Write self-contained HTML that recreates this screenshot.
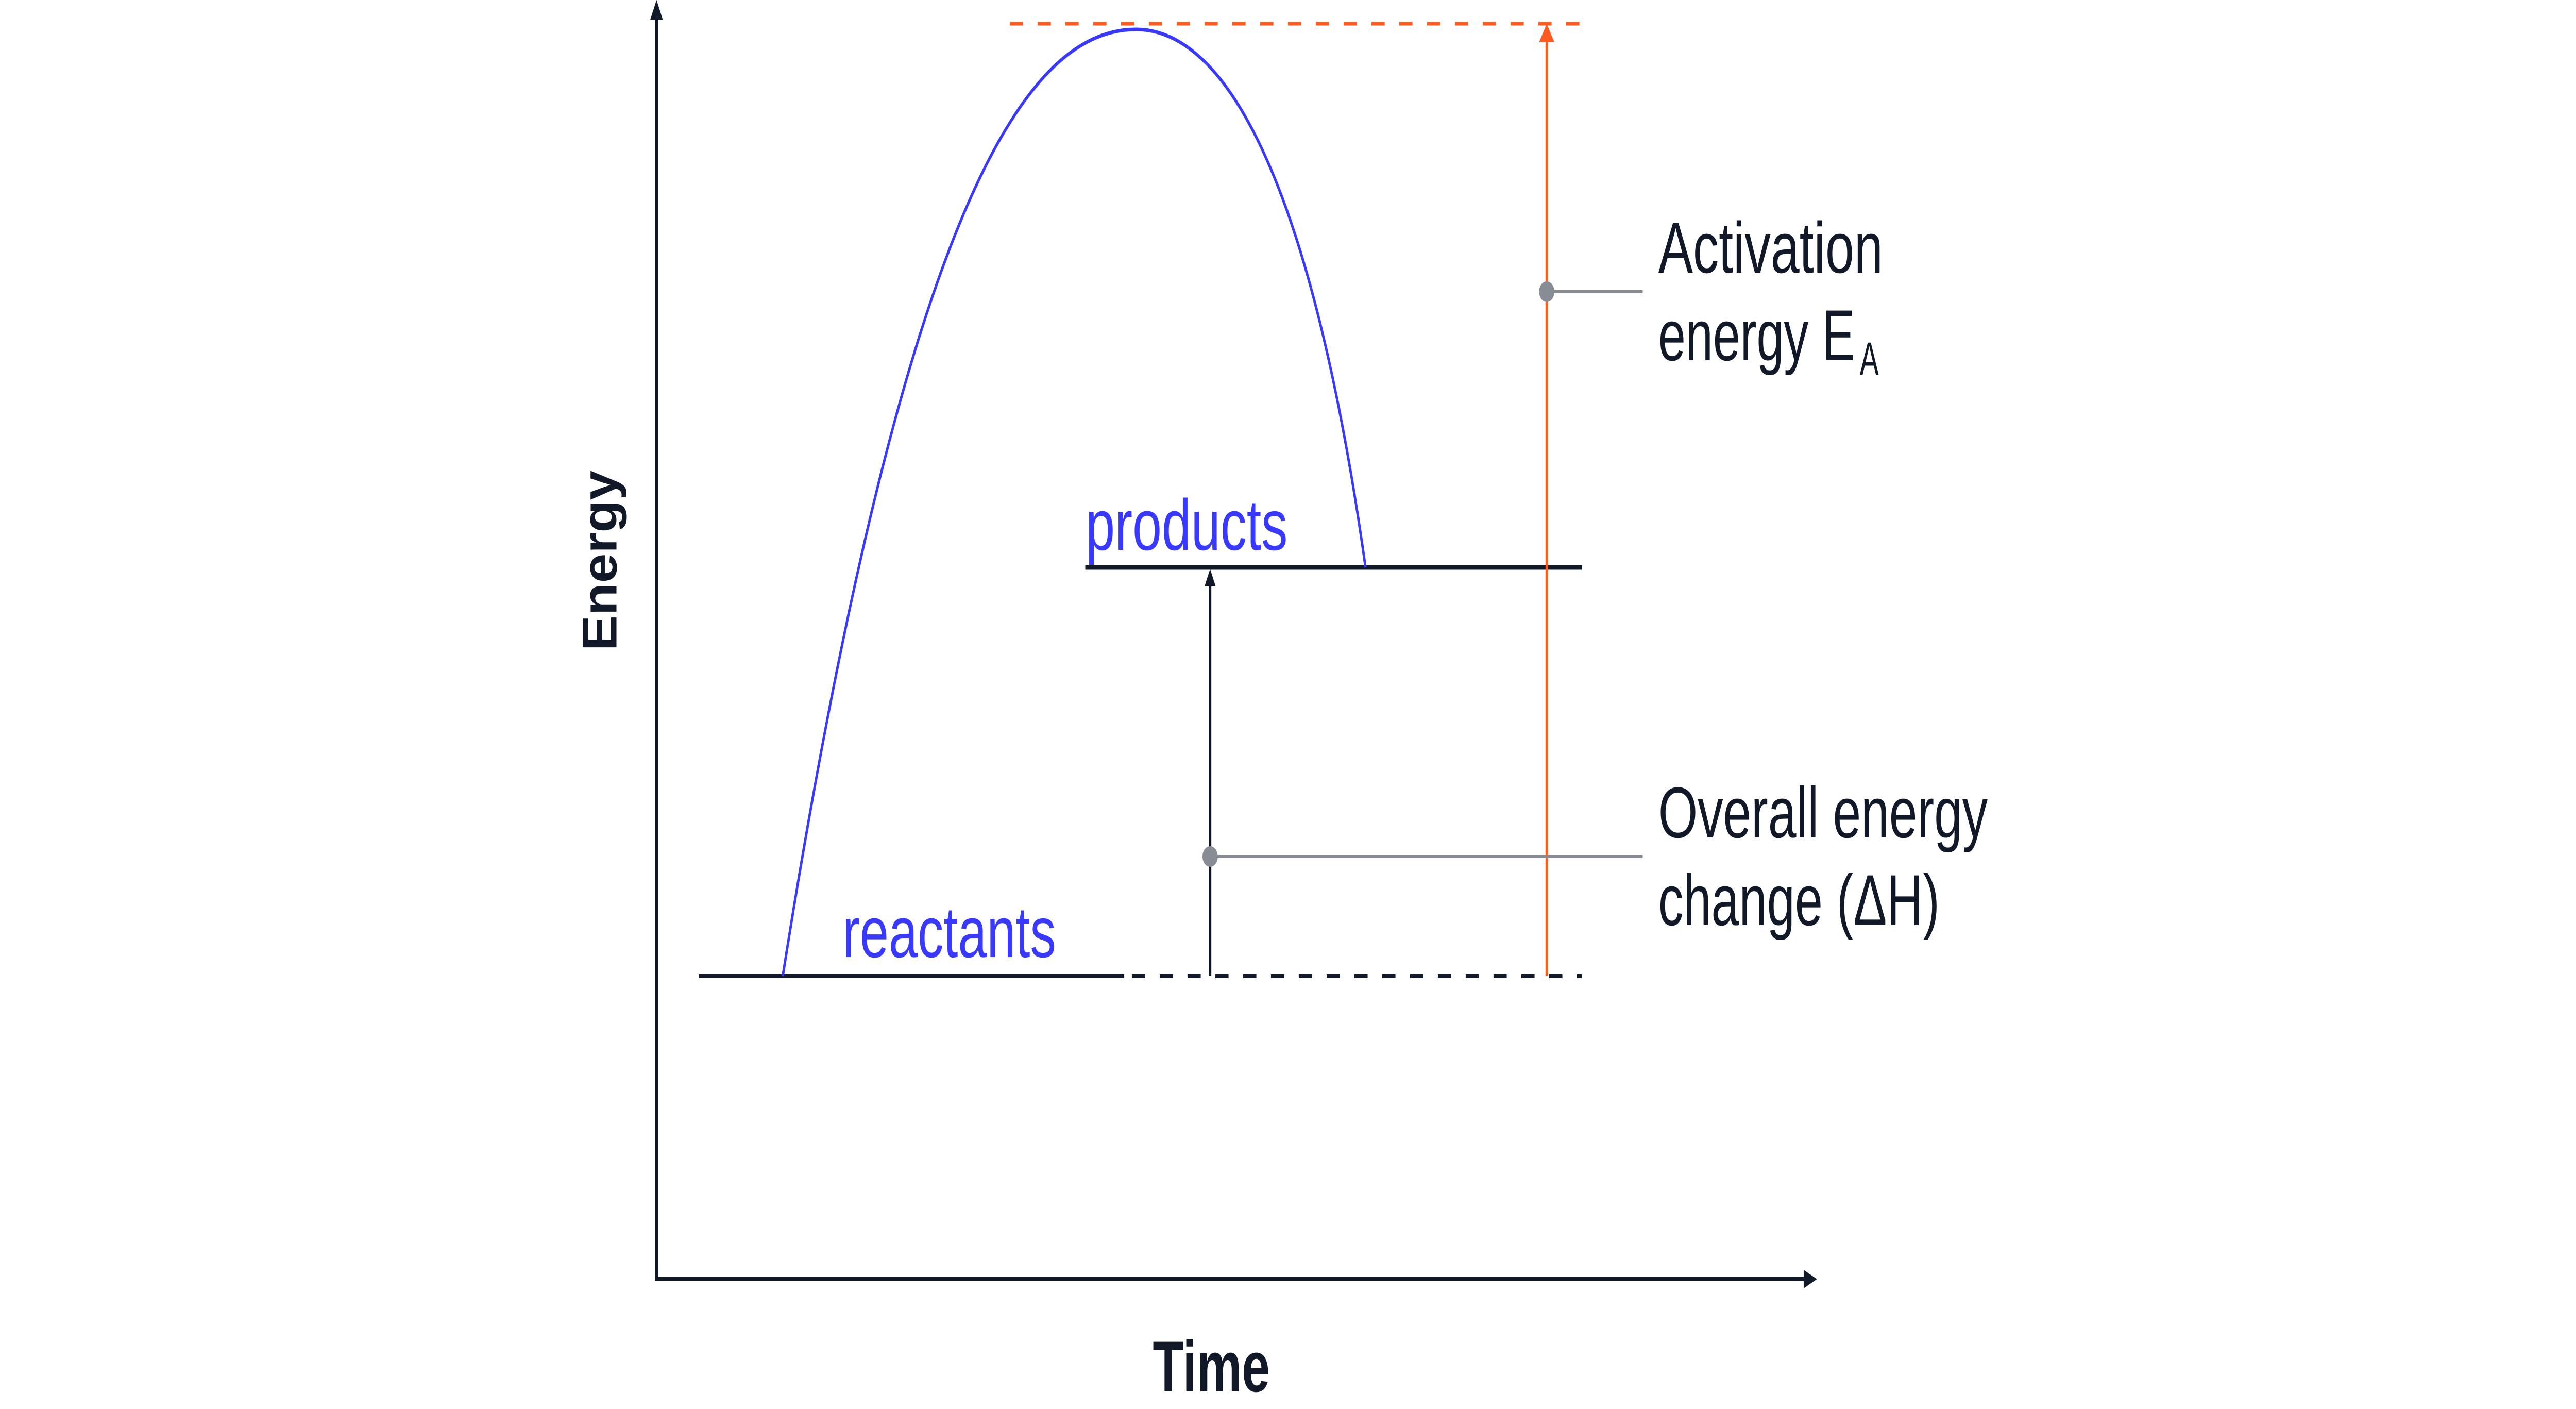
<!DOCTYPE html>
<html><head><meta charset="utf-8"><style>
html,body{margin:0;padding:0;background:#fff;width:100%;height:100%;overflow:hidden;}
svg{display:block;width:100vw;height:100vh;}
text{font-family:"Liberation Sans",sans-serif;}
</style></head><body>
<svg viewBox="0 0 7408 2734" preserveAspectRatio="none" xmlns="http://www.w3.org/2000/svg">
<line x1="1888" y1="30" x2="1888" y2="2482" stroke="#111827" stroke-width="8"/>
<polygon points="1888,0 1870,38 1906,38" fill="#111827"/>
<line x1="1884" y1="2482" x2="5195" y2="2482" stroke="#111827" stroke-width="8"/>
<polygon points="5225,2482 5187,2464 5187,2500" fill="#111827"/>
<line x1="2904" y1="46" x2="4549" y2="46" stroke="#ff5a1f" stroke-width="7" stroke-dasharray="38,42"/>
<line x1="2010" y1="1894" x2="3233" y2="1894" stroke="#111827" stroke-width="8"/>
<line x1="3255" y1="1894" x2="4549" y2="1894" stroke="#111827" stroke-width="8" stroke-dasharray="38,42"/>
<line x1="3121" y1="1101" x2="4549" y2="1101" stroke="#111827" stroke-width="9"/>
<path d="M2251,1894 C2600,400 2950,57 3267,57 C3500,57 3760,300 3927,1101" fill="none" stroke="#3838ff" stroke-width="7"/>
<line x1="3480" y1="1894" x2="3480" y2="1130" stroke="#111827" stroke-width="7"/>
<polygon points="3480,1104 3464,1138 3496,1138" fill="#111827"/>
<line x1="4448" y1="1894" x2="4448" y2="75" stroke="#ff5a1f" stroke-width="7"/>
<polygon points="4448,46 4426,82 4470,82" fill="#ff5a1f"/>
<line x1="4448" y1="566" x2="4724" y2="566" stroke="#888c94" stroke-width="6"/>
<ellipse cx="4448" cy="566" rx="22" ry="20" fill="#888c94"/>
<line x1="3480" y1="1662" x2="4724" y2="1662" stroke="#888c94" stroke-width="6"/>
<ellipse cx="3480" cy="1662" rx="22" ry="20" fill="#888c94"/>
<text x="2423" y="1857" font-size="140" fill="#3838ff" textLength="614" lengthAdjust="spacingAndGlyphs">reactants</text>
<text x="3122" y="1067" font-size="140" fill="#3838ff" textLength="581" lengthAdjust="spacingAndGlyphs">products</text>
<text x="4769" y="529" font-size="140" fill="#111827" textLength="646" lengthAdjust="spacingAndGlyphs">Activation</text>
<text x="4769" y="699" font-size="140" fill="#111827" textLength="565" lengthAdjust="spacingAndGlyphs">energy E</text>
<text x="5348" y="728" font-size="92" fill="#111827" textLength="55" lengthAdjust="spacingAndGlyphs">A</text>
<text x="4769" y="1625" font-size="140" fill="#111827" textLength="947" lengthAdjust="spacingAndGlyphs">Overall energy</text>
<text x="4769" y="1795" font-size="140" fill="#111827" textLength="809" lengthAdjust="spacingAndGlyphs">change (ΔH)</text>
<text x="3315" y="2700" font-size="140" font-weight="bold" fill="#111827" textLength="337" lengthAdjust="spacingAndGlyphs">Time</text>
<text transform="translate(1773,1263) rotate(-90)" x="0" y="0" font-size="140" font-weight="bold" fill="#111827" textLength="350" lengthAdjust="spacingAndGlyphs">Energy</text>
</svg>
</body></html>
